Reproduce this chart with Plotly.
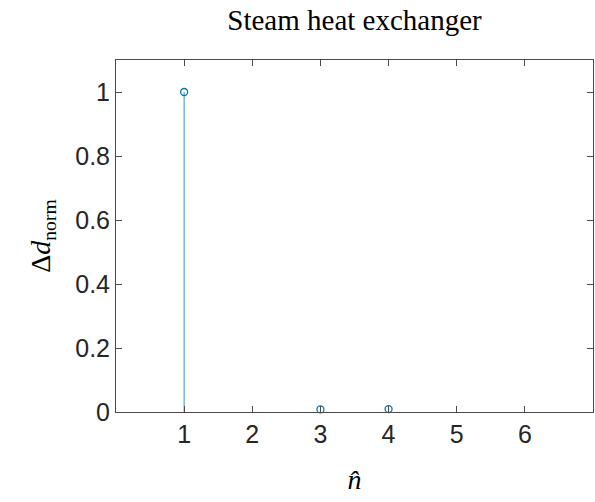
import plotly.graph_objects as go

n_hat = [1, 3, 4]
delta_d_norm = [1.0, 0.008, 0.009]
x_ticks = [1, 2, 3, 4, 5, 6]
y_ticks = [0, 0.2, 0.4, 0.6, 0.8, 1]
y_tick_labels = ["0", "0.2", "0.4", "0.6", "0.8", "1"]

stem_x, stem_y = [], []
for xv, yv in zip(n_hat, delta_d_norm):
    stem_x += [xv, xv, None]
    stem_y += [0, yv, None]

fig = go.Figure()
fig.add_trace(go.Scatter(x=stem_x, y=stem_y, mode="lines",
                         line=dict(color="rgb(80,165,220)", width=1.2),
                         hoverinfo="skip", showlegend=False))
fig.add_trace(go.Scatter(x=n_hat, y=delta_d_norm, mode="markers",
                         marker=dict(symbol="circle-open", size=7, color="#0072BD",
                                     line=dict(width=1.3, color="#0072BD")),
                         showlegend=False, cliponaxis=False))

axis_common = dict(showline=True, linecolor="#4a4a4a", linewidth=1, mirror="ticks",
                   ticks="inside", ticklen=6, tickcolor="#4a4a4a", tickwidth=1,
                   showgrid=False, zeroline=False,
                   tickfont=dict(family="Liberation Sans, Arial", size=25, color="#262626"))

fig.update_layout(
    width=595, height=502,
    margin=dict(l=116, r=2, t=60, b=90),
    paper_bgcolor="white", plot_bgcolor="white",
    title=dict(text="Steam heat exchanger", x=0.5, xanchor="center", xref="paper",
               y=0.94, yanchor="bottom",
               font=dict(family="Liberation Serif, Times New Roman", size=29, color="black")),
    xaxis=dict(range=[0, 7], tickvals=x_ticks, **axis_common,
               title=dict(text="<i>n\u0302</i>", standoff=22,
                          font=dict(family="Liberation Serif, Times New Roman", size=28, color="black"))),
    yaxis=dict(range=[0, 1.1], tickvals=y_ticks, ticktext=y_tick_labels, **axis_common,
               title=dict(text="\u0394<i>d</i><sub>norm</sub>", standoff=16,
                          font=dict(family="Liberation Serif, Times New Roman", size=28, color="black"))),
)

fig.write_html("out.html")
